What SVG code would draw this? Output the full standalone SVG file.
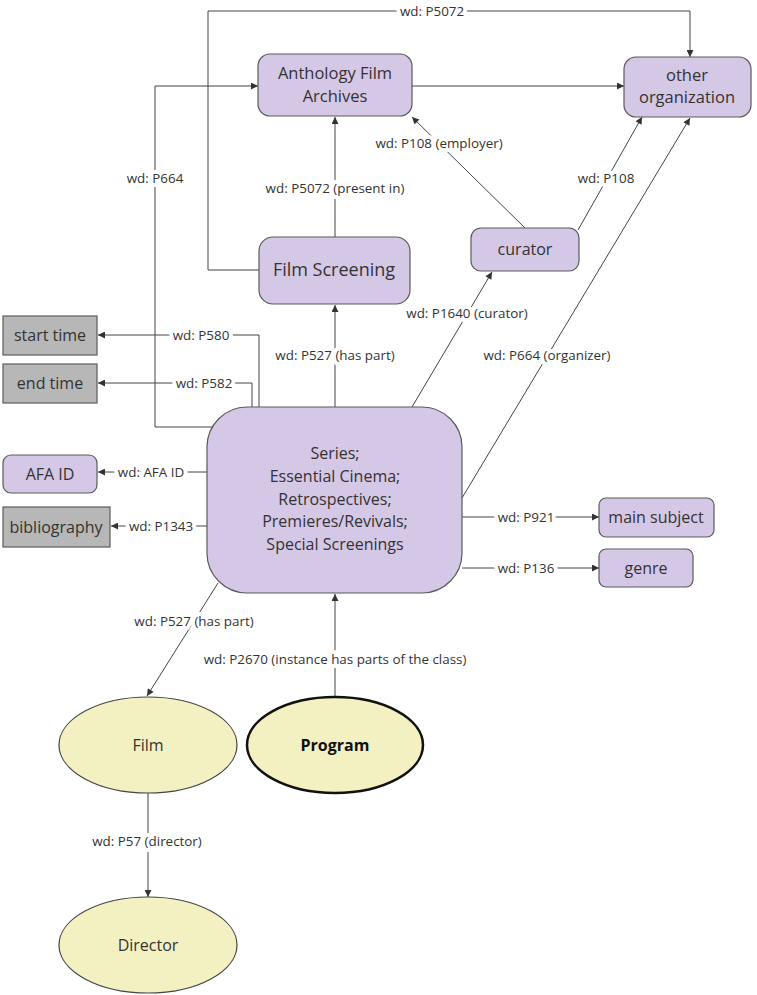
<svg xmlns="http://www.w3.org/2000/svg" width="757" height="995" viewBox="0 0 757 995">
<style>
.p{fill:#d5c7e6;stroke:#5a5a5a;stroke-width:1.2}
.g{fill:#b7b7b7;stroke:#5a5a5a;stroke-width:1.2}
.y{fill:#f3f0c2;stroke:#444;stroke-width:1.2}
.t{font-family:"Open Sans","DejaVu Sans",sans-serif;font-size:16px;fill:#333;text-anchor:middle}
.c path{fill:none;stroke:#444;stroke-width:1}
.l{font-family:"Open Sans","DejaVu Sans",sans-serif;font-size:13.4px;fill:#333;text-anchor:middle;stroke:#fff;stroke-width:8;paint-order:stroke;stroke-linejoin:round}
</style>
<defs>
<marker id="a" viewBox="0 0 10 10" refX="10" refY="5" markerWidth="8" markerHeight="7" markerUnits="userSpaceOnUse" orient="auto"><path d="M0,0 L10,5 L0,10 z" fill="#333"/></marker>
</defs>
<rect width="757" height="995" fill="#fff"/>
<g class="c">
<path d="M259,270 H208 V11 H690 V57" marker-end="url(#a)"/>
<path d="M412,86 H624" marker-end="url(#a)"/>
<path d="M213,427 H155 V86 H258" marker-end="url(#a)"/>
<path d="M335,237 V117" marker-end="url(#a)"/>
<path d="M525,228 L412,117" marker-end="url(#a)"/>
<path d="M578,230 L642,117" marker-end="url(#a)"/>
<path d="M462,498 L690,118" marker-end="url(#a)"/>
<path d="M335,407 V305" marker-end="url(#a)"/>
<path d="M412,407 L492,272" marker-end="url(#a)"/>
<path d="M259,407 V335 H98" marker-end="url(#a)"/>
<path d="M252,407 V383 H98" marker-end="url(#a)"/>
<path d="M207,472 H98" marker-end="url(#a)"/>
<path d="M207,526 H111" marker-end="url(#a)"/>
<path d="M462,517 H599" marker-end="url(#a)"/>
<path d="M462,568 H599" marker-end="url(#a)"/>
<path d="M218,583 L147,696" marker-end="url(#a)"/>
<path d="M335,697 V594" marker-end="url(#a)"/>
<path d="M148,793 V897" marker-end="url(#a)"/>
<text class="l" x="432" y="11" dy=".35em">wd: P5072</text>
<text class="l" x="155" y="178" dy=".35em">wd: P664</text>
<text class="l" x="335" y="188" dy=".35em">wd: P5072 (present in)</text>
<text class="l" x="439" y="143" dy=".35em">wd: P108 (employer)</text>
<text class="l" x="606" y="178" dy=".35em">wd: P108</text>
<text class="l" x="547" y="355" dy=".35em">wd: P664 (organizer)</text>
<text class="l" x="335" y="355" dy=".35em">wd: P527 (has part)</text>
<text class="l" x="467" y="313" dy=".35em">wd: P1640 (curator)</text>
<text class="l" x="201" y="335" dy=".35em">wd: P580</text>
<text class="l" x="204" y="383" dy=".35em">wd: P582</text>
<text class="l" x="151" y="472" dy=".35em">wd: AFA ID</text>
<text class="l" x="161" y="526" dy=".35em">wd: P1343</text>
<text class="l" x="526" y="517" dy=".35em">wd: P921</text>
<text class="l" x="526" y="568" dy=".35em">wd: P136</text>
<text class="l" x="194" y="621" dy=".35em">wd: P527 (has part)</text>
<text class="l" x="335" y="659" dy=".35em">wd: P2670 (instance has parts of the class)</text>
<text class="l" x="147" y="841" dy=".35em">wd: P57 (director)</text>
</g>
<g id="anthology"><rect class="p" x="258" y="54" width="154" height="62" rx="12"/><text class="t" x="335" y="79" style="font-size:16.5px">Anthology Film</text><text class="t" x="335" y="102" style="font-size:16.5px">Archives</text></g>
<g id="other-org"><rect class="p" x="624" y="57" width="127" height="60" rx="12"/><text class="t" x="687" y="81" style="font-size:16.5px">other</text><text class="t" x="687" y="103" style="font-size:16.5px">organization</text></g>
<g id="film-screening"><rect class="p" x="259" y="237" width="151" height="67" rx="14"/><text class="t" x="334" y="276" style="font-size:18px">Film Screening</text></g>
<g id="curator"><rect class="p" x="471" y="228" width="108" height="43" rx="10"/><text class="t" x="525" y="255">curator</text></g>
<g id="start-time"><rect class="g" x="3" y="316" width="94" height="39"/><text class="t" x="50" y="341">start time</text></g>
<g id="end-time"><rect class="g" x="3" y="364" width="94" height="39"/><text class="t" x="50" y="389">end time</text></g>
<g id="series"><rect class="p" x="207" y="407" width="255" height="186" rx="40"/>
<text class="t" x="335" y="459">Series;</text><text class="t" x="335" y="482">Essential Cinema;</text><text class="t" x="335" y="505">Retrospectives;</text><text class="t" x="335" y="527">Premieres/Revivals;</text><text class="t" x="335" y="550">Special Screenings</text></g>
<g id="afa-id"><rect class="p" x="3" y="455" width="94" height="38" rx="8"/><text class="t" x="50" y="480">AFA ID</text></g>
<g id="bibliography"><rect class="g" x="3" y="507" width="107" height="40"/><text class="t" x="56" y="533">bibliography</text></g>
<g id="main-subject"><rect class="p" x="599" y="498" width="115" height="39" rx="7"/><text class="t" x="656" y="523">main subject</text></g>
<g id="genre"><rect class="p" x="599" y="549" width="94" height="38" rx="7"/><text class="t" x="646" y="574">genre</text></g>
<g id="film"><ellipse class="y" cx="148" cy="745" rx="89" ry="48"/><text class="t" x="148" y="751">Film</text></g>
<g id="program"><ellipse class="y" cx="335" cy="745" rx="88" ry="48" style="stroke:#111;stroke-width:2.5"/><text class="t" x="335" y="751" style="font-weight:bold;fill:#111">Program</text></g>
<g id="director"><ellipse class="y" cx="148" cy="945" rx="89" ry="48"/><text class="t" x="148" y="951">Director</text></g>
</svg>
